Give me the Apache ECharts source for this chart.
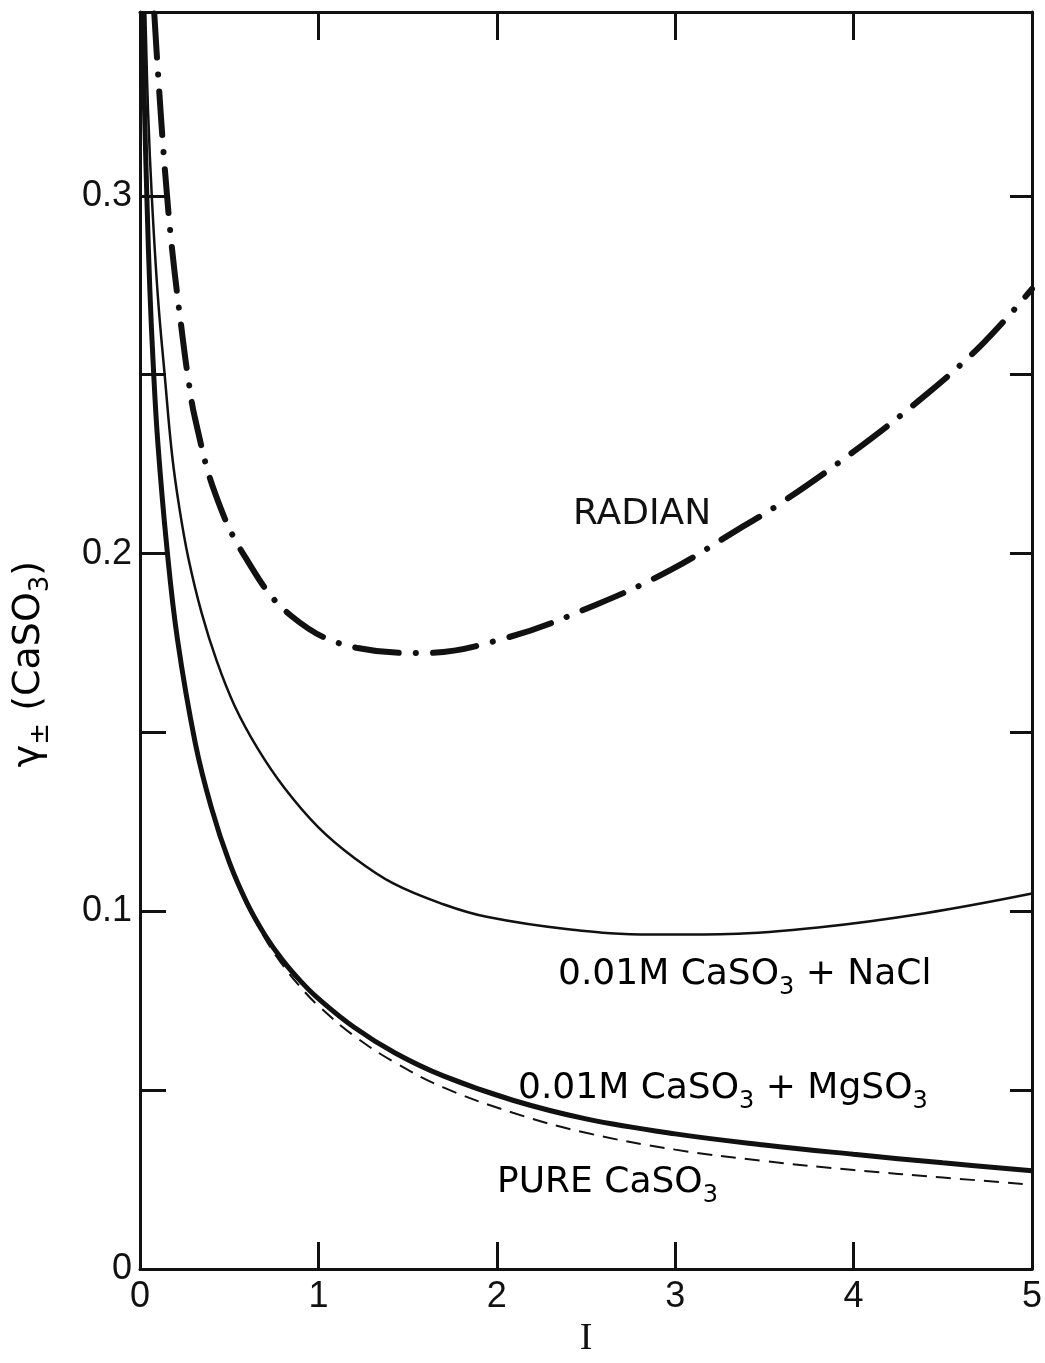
<!DOCTYPE html>
<html><head><meta charset="utf-8">
<script src="https://cdn.jsdelivr.net/npm/echarts@6/dist/echarts.min.js"></script>
<style>html,body{margin:0;padding:0;background:#fff}#c{width:1045px;height:1363px}</style>
</head><body><div id="c"></div>
<script>
// ---- data ----
const xTickValues = [0, 1, 2, 3, 4, 5];
const yTickValues = [0.05, 0.1, 0.15, 0.2, 0.25, 0.3];
const yLabelValues = [0, 0.1, 0.2, 0.3];

const radianI = [0.08, 0.10, 0.14, 0.18, 0.235, 0.27, 0.31, 0.42, 0.59, 0.85, 1.22, 1.58, 2.05, 2.56, 2.98, 3.36, 3.58, 4.0, 4.42, 4.73, 5.0];
const radianG = [0.351, 0.335, 0.307, 0.285, 0.262, 0.249, 0.2375, 0.217, 0.199, 0.1825, 0.1736, 0.1722, 0.1764, 0.1858, 0.1956, 0.207, 0.2137, 0.2285, 0.245, 0.259, 0.274];

const naclI = [0.03, 0.045, 0.067, 0.1, 0.14, 0.18, 0.22, 0.27, 0.345, 0.43, 0.53, 0.66, 0.81, 1.0, 1.2, 1.42, 1.7, 1.95, 2.4, 2.87, 3.3, 3.8, 4.4, 5.0];
const naclG = [0.351, 0.324, 0.299, 0.272, 0.249, 0.2275, 0.213, 0.199, 0.1835, 0.170, 0.1575, 0.1455, 0.1345, 0.1235, 0.1150, 0.1078, 0.1020, 0.0984, 0.0950, 0.0935, 0.0937, 0.0955, 0.0995, 0.1050];

const mgI = [0.015, 0.025, 0.04, 0.055, 0.075, 0.1, 0.15, 0.21, 0.31, 0.4, 0.5, 0.6, 0.7, 0.8, 0.9, 1.0, 1.2, 1.43, 1.7, 2.09, 2.5, 3.0, 3.5, 4.0, 4.5, 5.0];
const mgG = [0.351, 0.325, 0.297, 0.274, 0.252, 0.231, 0.202, 0.176, 0.147, 0.129, 0.1138, 0.1023, 0.0934, 0.0863, 0.0805, 0.0756, 0.0676, 0.0604, 0.054, 0.0472, 0.042, 0.0378, 0.0347, 0.0321, 0.0297, 0.0275];

const pureI = [0.015, 0.025, 0.04, 0.055, 0.075, 0.1, 0.15, 0.21, 0.31, 0.4, 0.5, 0.6, 0.7, 0.8, 0.9, 1.0, 1.2, 1.43, 1.7, 2.09, 2.5, 3.0, 3.5, 4.0, 4.5, 5.0];
const pureG = [0.351, 0.325, 0.297, 0.274, 0.252, 0.231, 0.202, 0.176, 0.147, 0.129, 0.1138, 0.1020, 0.0925, 0.0850, 0.0788, 0.0736, 0.0652, 0.0577, 0.0508, 0.0437, 0.0381, 0.0334, 0.0302, 0.0277, 0.0256, 0.0236];

const pairs = (xs, ys) => xs.map((x, i) => [x, ys[i]]);

const BLACK = '#111';
const TICKFONT = 'Liberation Sans';
const LABFONT = 'DejaVu Sans';

const chart = echarts.init(document.getElementById('c'), null, {renderer: 'canvas'});

const baseX = {
  type: 'value', min: 0, max: 5, interval: 1,
  splitLine: {show: false},
  axisLine: {show: true, onZero: false, lineStyle: {color: BLACK, width: 3}}
};
const baseY = {
  type: 'value', min: 0, max: 0.3514, interval: 0.05,
  splitLine: {show: false},
  axisLine: {show: true, onZero: false, lineStyle: {color: BLACK, width: 3}}
};

const richOf = (fs, sub) => ({
  n: {fontSize: fs, fontFamily: LABFONT, color: BLACK, lineHeight: 50, verticalAlign: 'middle'},
  s: {fontSize: sub, fontFamily: LABFONT, color: BLACK, lineHeight: 50, verticalAlign: 'bottom'}
});
const rich = richOf(36, 24);
const richTitle = richOf(38, 26);

const option = {
  animation: false,
  backgroundColor: '#fff',
  grid: {left: 140, right: 11, top: 12, bottom: 86, containLabel: false},
  xAxis: [
    Object.assign({}, baseX, {
      position: 'bottom',
      axisTick: {show: true, inside: true, length: 27, customValues: xTickValues.slice(1, 5), lineStyle: {color: BLACK, width: 3}},
      axisLabel: {show: true, fontSize: 36, fontFamily: TICKFONT, color: BLACK, margin: 10, customValues: xTickValues},
      name: 'I', nameLocation: 'middle', nameGap: 50,
      nameTextStyle: {fontSize: 38, fontFamily: 'Liberation Serif', color: BLACK}
    }),
    Object.assign({}, baseX, {
      position: 'top',
      axisTick: {show: true, inside: true, length: 28, customValues: xTickValues.slice(1, 5), lineStyle: {color: BLACK, width: 3}},
      axisLabel: {show: false}
    })
  ],
  yAxis: [
    Object.assign({}, baseY, {
      position: 'left',
      axisTick: {show: true, inside: true, length: 26, customValues: yTickValues, lineStyle: {color: BLACK, width: 3}},
      axisLabel: {show: true, fontSize: 36, fontFamily: TICKFONT, color: BLACK, margin: 8,
        customValues: yLabelValues,
        formatter: v => (Math.abs(v) < 1e-9 ? '0' : v.toFixed(1))}
    }),
    Object.assign({}, baseY, {
      position: 'right',
      axisTick: {show: true, inside: true, length: 22, customValues: yTickValues, lineStyle: {color: BLACK, width: 3}},
      axisLabel: {show: false}
    })
  ],
  series: [
    {
      name: 'RADIAN', type: 'line', xAxisIndex: 0, yAxisIndex: 0,
      data: pairs(radianI, radianG), showSymbol: false, smooth: 0.4,
      lineStyle: {color: BLACK, width: 6, type: [44, 17, 0.1, 17], cap: 'round'}
    },
    {
      name: 'NaCl', type: 'line', xAxisIndex: 0, yAxisIndex: 0,
      data: pairs(naclI, naclG), showSymbol: false, smooth: 0.4,
      lineStyle: {color: BLACK, width: 2.5}
    },
    {
      name: 'MgSO3', type: 'line', xAxisIndex: 0, yAxisIndex: 0,
      data: pairs(mgI, mgG), showSymbol: false, smooth: 0.4,
      lineStyle: {color: BLACK, width: 5}
    },
    {
      name: 'Pure', type: 'line', xAxisIndex: 0, yAxisIndex: 0,
      data: pairs(pureI, pureG), showSymbol: false, smooth: 0.4,
      lineStyle: {color: BLACK, width: 2, type: [15, 9]}
    }
  ],
  graphic: [
    {type: 'text', rotation: Math.PI / 2, x: 29, y: 664,
      style: {text: '{n|γ}{s|±}{n| (CaSO}{s|3}{n|)}', rich: richTitle, align: 'center', verticalAlign: 'middle'}},
    {type: 'text', x: 573, y: 515,
      style: {text: 'RADIAN', font: '36px "DejaVu Sans"', fill: BLACK, align: 'left', verticalAlign: 'middle'}},
    {type: 'text', x: 558, y: 975,
      style: {text: '{n|0.01M CaSO}{s|3}{n| + NaCl}', rich: rich, align: 'left', verticalAlign: 'middle'}},
    {type: 'text', x: 518, y: 1089,
      style: {text: '{n|0.01M CaSO}{s|3}{n| + MgSO}{s|3}', rich: rich, align: 'left', verticalAlign: 'middle'}},
    {type: 'text', x: 497, y: 1183,
      style: {text: '{n|PURE CaSO}{s|3}', rich: rich, align: 'left', verticalAlign: 'middle'}}
  ]
};
chart.setOption(option);
</script>
</body></html>
